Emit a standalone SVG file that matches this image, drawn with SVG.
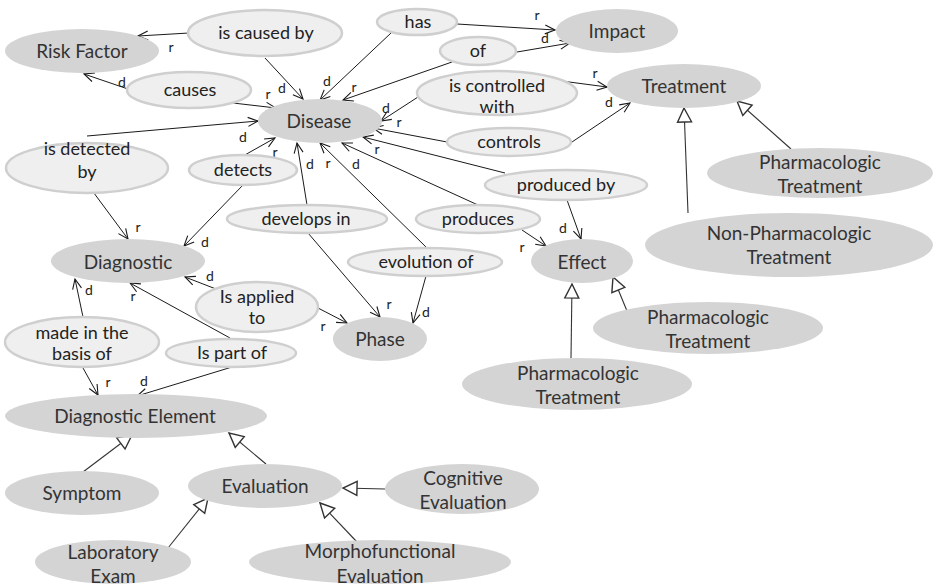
<svg xmlns="http://www.w3.org/2000/svg" width="934" height="587" viewBox="0 0 934 587">
<defs>
<marker id="arr" markerUnits="userSpaceOnUse" markerWidth="10" markerHeight="10" viewBox="0 0 10 10" refX="10" refY="5" orient="auto" overflow="visible">
<path d="M0,0.5 L10,5 L0,9.5" fill="none" stroke="#1a1a1a" stroke-width="1.1"/>
</marker>
<marker id="tri" markerUnits="userSpaceOnUse" markerWidth="16" markerHeight="16" viewBox="0 0 16 16" refX="15" refY="8" orient="auto" overflow="visible">
<path d="M1,1 L15,8 L1,15 z" fill="#fff" stroke="#333" stroke-width="1.4"/>
</marker>
</defs>
<style>
.c ellipse{fill:#d4d4d4}
.r ellipse{fill:#efefef;stroke:#cfcfcf;stroke-width:2.5}
text{font-family:Lato,"Liberation Sans",sans-serif;text-anchor:middle}
.c text{font-size:19px;fill:#333}
.r text{font-size:18px;fill:#222}
.l text{font-size:14px;fill:#222}
.e{stroke:#1a1a1a;stroke-width:1;fill:none;marker-end:url(#arr)}
.i{stroke:#333;stroke-width:1.1;fill:none;marker-end:url(#tri)}
</style>
<rect width="934" height="587" fill="#fff"/>

<g id="connectors">
<line class="e" x1="189" y1="33" x2="138" y2="36"/>
<line class="e" x1="265" y1="58" x2="303" y2="99"/>
<line class="e" x1="128" y1="89" x2="84" y2="74"/>
<line class="e" x1="233" y1="103" x2="276" y2="108"/>
<line class="e" x1="87" y1="136" x2="258" y2="121"/>
<line class="e" x1="243" y1="156" x2="275" y2="138"/>
<line class="e" x1="88" y1="185" x2="128" y2="239"/>
<line class="e" x1="243" y1="185" x2="184" y2="246"/>
<line class="e" x1="307" y1="205" x2="297" y2="143"/>
<line class="e" x1="308" y1="233" x2="380" y2="317"/>
<line class="e" x1="426" y1="247" x2="320" y2="143"/>
<line class="e" x1="426" y1="276" x2="413" y2="323"/>
<line class="e" x1="478" y1="205" x2="342" y2="143"/>
<line class="e" x1="522" y1="230" x2="546" y2="246"/>
<line class="e" x1="505" y1="173" x2="363" y2="137"/>
<line class="e" x1="567" y1="200" x2="581" y2="239"/>
<line class="e" x1="447" y1="142" x2="373" y2="128"/>
<line class="e" x1="572" y1="142" x2="630" y2="103"/>
<line class="e" x1="418" y1="97" x2="381" y2="121"/>
<line class="e" x1="554" y1="80" x2="607" y2="87"/>
<line class="e" x1="452" y1="62" x2="343" y2="100"/>
<line class="e" x1="517" y1="52" x2="570" y2="43"/>
<line class="e" x1="391" y1="33" x2="320" y2="100"/>
<line class="e" x1="457" y1="24" x2="555" y2="30"/>
<line class="e" x1="216" y1="289" x2="185" y2="277"/>
<line class="e" x1="318" y1="308" x2="347" y2="323"/>
<line class="e" x1="230" y1="338" x2="130" y2="283"/>
<line class="e" x1="232" y1="367" x2="137" y2="396"/>
<line class="e" x1="83" y1="317" x2="75" y2="279"/>
<line class="e" x1="83" y1="368" x2="98" y2="395"/>
<line class="i" x1="688" y1="213" x2="684" y2="108"/>
<line class="i" x1="791" y1="149" x2="737" y2="101"/>
<line class="i" x1="627" y1="311" x2="613" y2="277"/>
<line class="i" x1="571" y1="358" x2="572" y2="284"/>
<line class="i" x1="83" y1="472" x2="132" y2="435"/>
<line class="i" x1="266" y1="464" x2="229" y2="433"/>
<line class="i" x1="168" y1="548" x2="208" y2="498"/>
<line class="i" x1="385" y1="489" x2="343" y2="488"/>
<line class="i" x1="357" y1="542" x2="320" y2="503"/>
</g>

<g id="labels" class="l">
<text x="171" y="52">r</text>
<text x="282" y="93">d</text>
<text x="122" y="87">d</text>
<text x="268" y="99">r</text>
<text x="243" y="142">d</text>
<text x="275" y="157">r</text>
<text x="138" y="232">r</text>
<text x="205" y="247">d</text>
<text x="310" y="169">d</text>
<text x="389" y="309">r</text>
<text x="328" y="168">r</text>
<text x="426" y="317">d</text>
<text x="356" y="169">d</text>
<text x="522" y="252">r</text>
<text x="377" y="154">r</text>
<text x="563" y="233">d</text>
<text x="399" y="127">r</text>
<text x="609" y="107">d</text>
<text x="386" y="113">d</text>
<text x="595" y="78">r</text>
<text x="354" y="92">r</text>
<text x="545" y="43">d</text>
<text x="327" y="86">d</text>
<text x="537" y="20">r</text>
<text x="210" y="281">d</text>
<text x="323" y="331">r</text>
<text x="133" y="301">r</text>
<text x="144" y="386">d</text>
<text x="89" y="295">d</text>
<text x="108" y="387">r</text>
</g>

<g id="risk-factor" class="c"><ellipse cx="82" cy="51" rx="77" ry="22"/><text x="82" y="58">Risk Factor</text></g>
<g id="disease" class="c"><ellipse cx="320" cy="121" rx="62" ry="22"/><text x="319" y="128">Disease</text></g>
<g id="impact" class="c"><ellipse cx="617" cy="31" rx="61" ry="22"/><text x="617" y="38">Impact</text></g>
<g id="treatment" class="c"><ellipse cx="684" cy="86" rx="77" ry="22"/><text x="684" y="93">Treatment</text></g>
<g id="pharmacologic-treatment-1" class="c"><ellipse cx="820" cy="173" rx="113" ry="25"/><text x="820" y="169">Pharmacologic</text><text x="820" y="193">Treatment</text></g>
<g id="non-pharmacologic-treatment" class="c"><ellipse cx="789" cy="245" rx="144" ry="32"/><text x="789" y="240">Non-Pharmacologic</text><text x="789" y="264">Treatment</text></g>
<g id="effect" class="c"><ellipse cx="582" cy="261" rx="51" ry="22"/><text x="582" y="269">Effect</text></g>
<g id="pharmacologic-treatment-2" class="c"><ellipse cx="708" cy="328" rx="115" ry="26"/><text x="708" y="324">Pharmacologic</text><text x="708" y="348">Treatment</text></g>
<g id="pharmacologic-treatment-3" class="c"><ellipse cx="577" cy="384" rx="115" ry="26"/><text x="578" y="380">Pharmacologic</text><text x="578" y="404">Treatment</text></g>
<g id="phase" class="c"><ellipse cx="380" cy="339" rx="47" ry="22"/><text x="380" y="346">Phase</text></g>
<g id="diagnostic" class="c"><ellipse cx="128" cy="261" rx="77" ry="22"/><text x="128" y="269">Diagnostic</text></g>
<g id="diagnostic-element" class="c"><ellipse cx="136" cy="416" rx="131" ry="22"/><text x="135" y="423">Diagnostic Element</text></g>
<g id="symptom" class="c"><ellipse cx="82" cy="493" rx="77" ry="22"/><text x="82" y="500">Symptom</text></g>
<g id="evaluation" class="c"><ellipse cx="265" cy="486" rx="77" ry="22"/><text x="265" y="493">Evaluation</text></g>
<g id="cognitive-evaluation" class="c"><ellipse cx="462" cy="489" rx="77" ry="25"/><text x="463" y="485">Cognitive</text><text x="463" y="509">Evaluation</text></g>
<g id="laboratory-exam" class="c"><ellipse cx="113" cy="562" rx="78" ry="22"/><text x="113" y="559">Laboratory</text><text x="113" y="583">Exam</text></g>
<g id="morphofunctional-evaluation" class="c"><ellipse cx="380" cy="562" rx="131" ry="22"/><text x="380" y="558">Morphofunctional</text><text x="380" y="583">Evaluation</text></g>

<g id="is-caused-by" class="r"><ellipse cx="265" cy="33" rx="77" ry="23"/><text x="266" y="39">is caused by</text></g>
<g id="causes" class="r"><ellipse cx="189" cy="90" rx="62" ry="18"/><text x="190" y="96">causes</text></g>
<g id="is-detected-by" class="r"><ellipse cx="87" cy="168" rx="81" ry="25"/><text x="87" y="155">is detected</text><text x="87" y="178">by</text></g>
<g id="detects" class="r"><ellipse cx="243" cy="170" rx="54" ry="15"/><text x="243" y="176">detects</text></g>
<g id="has" class="r"><ellipse cx="417" cy="22" rx="40" ry="13"/><text x="418" y="28">has</text></g>
<g id="of" class="r"><ellipse cx="478" cy="51" rx="38" ry="14"/><text x="478" y="57">of</text></g>
<g id="is-controlled-with" class="r"><ellipse cx="497" cy="93" rx="80" ry="22"/><text x="497" y="92">is controlled</text><text x="497" y="113">with</text></g>
<g id="controls" class="r"><ellipse cx="509" cy="142" rx="62" ry="14"/><text x="509" y="148">controls</text></g>
<g id="produced-by" class="r"><ellipse cx="566" cy="185" rx="81" ry="15"/><text x="566" y="191">produced by</text></g>
<g id="develops-in" class="r"><ellipse cx="307" cy="219" rx="80" ry="14"/><text x="306" y="225">develops in</text></g>
<g id="produces" class="r"><ellipse cx="478" cy="219" rx="62" ry="14"/><text x="478" y="225">produces</text></g>
<g id="evolution-of" class="r"><ellipse cx="425" cy="262" rx="77" ry="14"/><text x="426" y="268">evolution of</text></g>
<g id="is-applied-to" class="r"><ellipse cx="257" cy="307" rx="61" ry="25"/><text x="257" y="303">Is applied</text><text x="257" y="324">to</text></g>
<g id="made-in-the-basis-of" class="r"><ellipse cx="82" cy="342" rx="77" ry="25"/><text x="82" y="339">made in the</text><text x="82" y="360">basis of</text></g>
<g id="is-part-of" class="r"><ellipse cx="231" cy="353" rx="65" ry="14"/><text x="232" y="359">Is part of</text></g>
</svg>
